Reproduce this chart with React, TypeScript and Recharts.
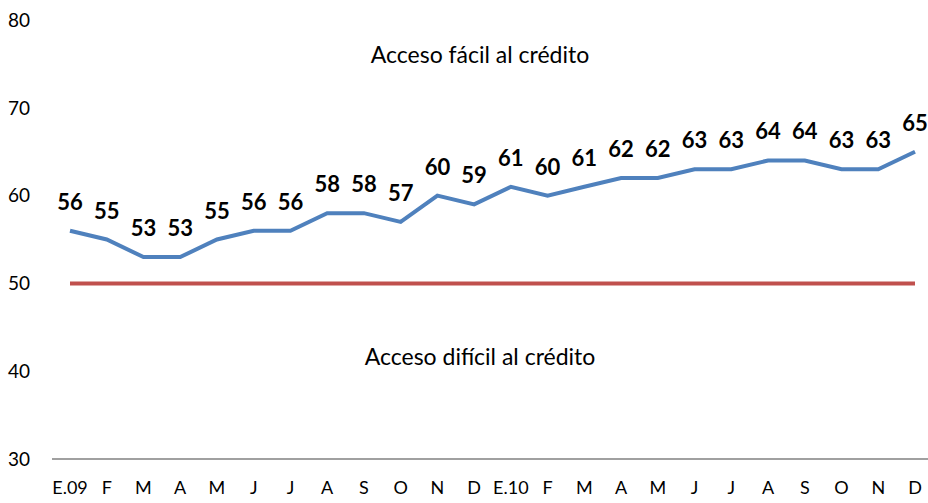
import { LineChart, Line, XAxis, YAxis, LabelList } from "recharts";

const months = ["E.09", "F", "M", "A", "M", "J", "J", "A", "S", "O", "N", "D", "E.10", "F", "M", "A", "M", "J", "J", "A", "S", "O", "N", "D"];
const indice = [56, 55, 53, 53, 55, 56, 56, 58, 58, 57, 60, 59, 61, 60, 61, 62, 62, 63, 63, 64, 64, 63, 63, 65];
const neutral = [50, 50, 50, 50, 50, 50, 50, 50, 50, 50, 50, 50, 50, 50, 50, 50, 50, 50, 50, 50, 50, 50, 50, 50];
const yTicks = [30, 40, 50, 60, 70, 80];

const data = months.map((m, i) => ({ key: `${m}-${i}`, label: m, indice: indice[i], neutral: neutral[i] }));

const font = "Lato, 'Open Sans', sans-serif";

export default function App() {
    return (
        <div style={{ position: "absolute", left: 0, top: 0, width: 928, height: 503, overflow: "hidden", background: "#fff", fontFamily: font }}>
            <LineChart width={928} height={503} data={data} margin={{ top: 20, right: 0, left: 0, bottom: 0 }}>
                <XAxis
                    dataKey="key"
                    tickFormatter={(v: string) => v.split("-")[0]}
                    interval={0}
                    height={44}
                    tickLine={false}
                    tickSize={0}
                    tickMargin={22}
                    axisLine={{ stroke: "#808080", strokeWidth: 1.5 }}
                    padding={{ left: 18, right: 13 }}
                    tick={{ fill: "#000", fontSize: 18, fontFamily: font }}
                />
                <YAxis
                    domain={[30, 80]}
                    ticks={yTicks}
                    width={52}
                    axisLine={false}
                    tickLine={false}
                    tickSize={0}
                    tickMargin={22}
                    tick={{ fill: "#000", fontSize: 19, fontFamily: font }}
                />
                <Line dataKey="neutral" stroke="#C0504D" strokeWidth={4} dot={false} isAnimationActive={false} />
                <Line dataKey="indice" stroke="#4F81BD" strokeWidth={4} dot={false} isAnimationActive={false}>
                    <LabelList dataKey="indice" position="top" offset={21} style={{ fontSize: 22, fontWeight: 700, fill: "#000", fontFamily: font }} />
                </Line>
            </LineChart>
            <div style={{ position: "absolute", left: 280, width: 400, top: 40, textAlign: "center", fontSize: 23, color: "#000" }}>
                Acceso fácil al crédito
            </div>
            <div style={{ position: "absolute", left: 280, width: 400, top: 342, textAlign: "center", fontSize: 23, color: "#000" }}>
                Acceso difícil al crédito
            </div>
        </div>
    );
}
